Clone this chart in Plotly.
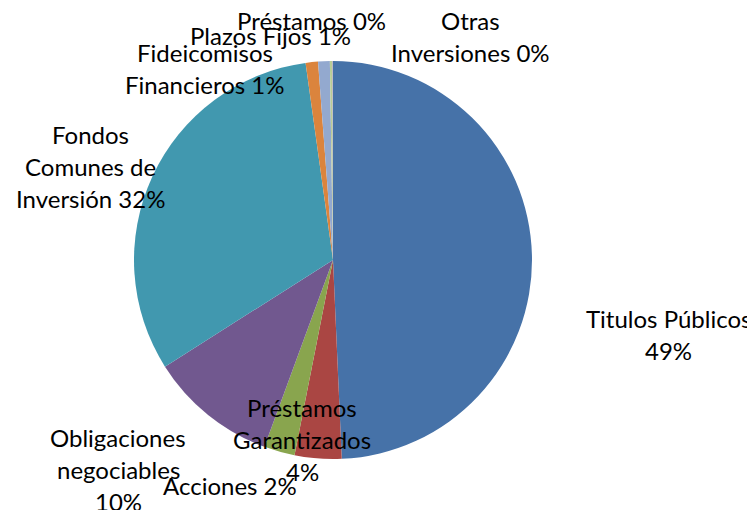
import plotly.graph_objects as go

W, H = 755, 510
OFF = 8  # page body margin offset

# Data
categories = ["Titulos Públicos", "Préstamos Garantizados", "Acciones",
              "Obligaciones negociables", "Fondos Comunes de Inversión",
              "Fideicomisos Financieros", "Plazos Fijos", "Préstamos",
              "Otras Inversiones"]
values = [49.3, 3.8, 2.5, 10.4, 31.8, 1.0, 0.95, 0.2, 0.05]
label_lines = [
    ["Titulos Públicos"],
    ["Préstamos", "Garantizados"],
    ["Acciones"],
    ["Obligaciones", "negociables"],
    ["Fondos", "Comunes de", "Inversión"],
    ["Fideicomisos", "Financieros"],
    ["Plazos Fijos"],
    ["Préstamos"],
    ["Otras", "Inversiones"],
]
# whether the percentage goes on its own line
pct_newline = [True, True, False, True, False, False, False, False, False]
colors = ["#4672A8", "#AA4643", "#89A54E", "#71588F", "#4198AF",
          "#DB843D", "#93A9CF", "#B9CD96", "#A99BBD"]

# Label layout (pixel centres of the first line)
label_pos = [(668, 318), (302, 407), (230, 485), (118, 437), (90, 134),
             (205, 52), (270, 35), (311, 20), (470, 20)]
LINE_H = 32

cx, cy, r = 333 - OFF, 260 - OFF, 199

fig = go.Figure(go.Pie(
    labels=categories, values=values, sort=False, direction="clockwise",
    rotation=0, textinfo="none", hoverinfo="label+percent",
    marker=dict(colors=colors, line=dict(width=0)),
    domain=dict(x=[(cx - r) / W, (cx + r) / W], y=[1 - (cy + r) / H, 1 - (cy - r) / H]),
    showlegend=False,
))

total = sum(values)
annotations = []
for lines, v, nl, (x, y) in zip(label_lines, values, pct_newline, label_pos):
    pct = f"{round(100 * v / total):d}%"
    ls = list(lines)
    if nl:
        ls.append(pct)
    else:
        ls[-1] = ls[-1] + " " + pct
    for i, t in enumerate(ls):
        annotations.append(dict(
            text=t, x=(x - OFF) / W, y=1 - (y - OFF + i * LINE_H) / H,
            xref="paper", yref="paper",
            showarrow=False, xanchor="center", yanchor="middle",
            font=dict(family="Lato, Carlito, sans-serif", size=24, color="#000000"),
        ))

fig.update_layout(
    width=W, height=H, margin=dict(l=0, r=0, t=0, b=0),
    paper_bgcolor="white", plot_bgcolor="white",
    annotations=annotations,
)

fig.write_html("out.html")
